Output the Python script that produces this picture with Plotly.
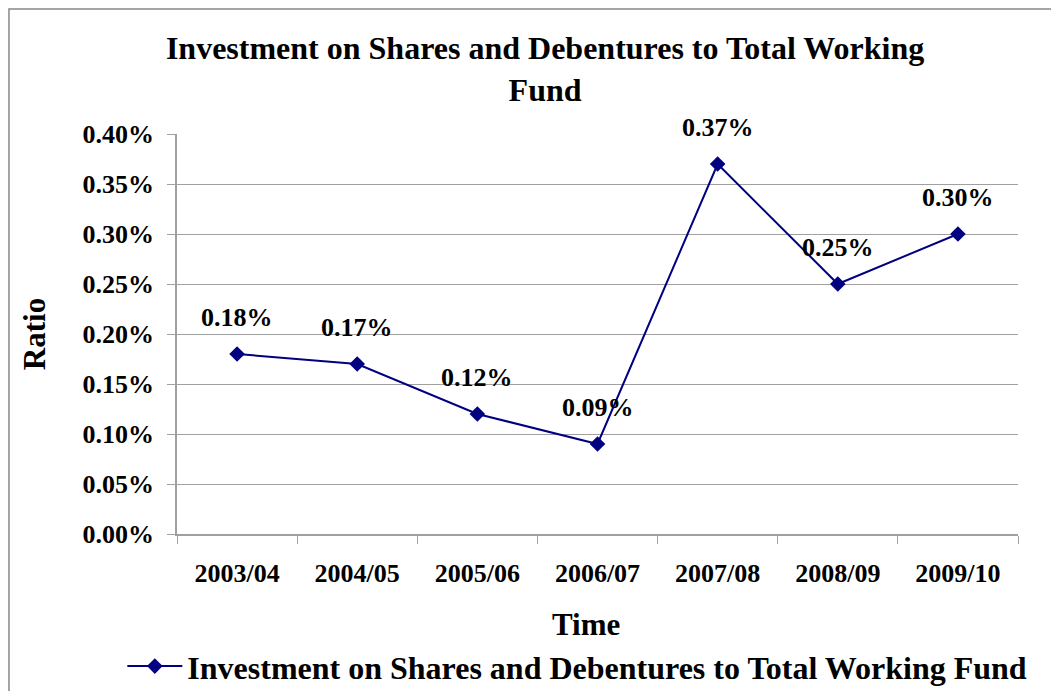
import plotly.graph_objects as go

years = ["2003/04", "2004/05", "2005/06", "2006/07", "2007/08", "2008/09", "2009/10"]
ratio = [0.0018, 0.0017, 0.0012, 0.0009, 0.0037, 0.0025, 0.0030]
series_name = "Investment on Shares and Debentures to Total Working Fund"

FONT = "Liberation Serif"
NAVY = "#000080"
GREY = "#a0a0a0"

fig = go.Figure()
fig.add_trace(go.Scatter(
    x=years, y=ratio, mode="lines+markers", name="<b>" + series_name + "</b>",
    line=dict(color=NAVY, width=2),
    marker=dict(symbol="diamond", size=12, color=NAVY),
))

# data labels sit well above each point
for x, y in zip(years, ratio):
    fig.add_annotation(x=x, y=y, text=f"<b>{y * 100:.2f}%</b>", showarrow=False,
                       yshift=37, font=dict(family=FONT, size=26, color="black"))

# x axis title sits a little left of the plot centre in the original
fig.add_annotation(text="<b>Time</b>", xref="paper", yref="paper", x=0.486, y=-0.225,
                   xanchor="center", yanchor="middle", showarrow=False,
                   font=dict(family=FONT, size=31, color="black"))

# outer chart frame
fig.add_shape(type="rect", xref="paper", yref="paper",
              x0=-0.1998, x1=1.1, y0=-0.5, y1=1.3125,
              line=dict(color="#888888", width=1.5))

# the page body adds 8px on the left and top, so the figure is 8px smaller
fig.update_layout(
    width=1051, height=683,
    margin=dict(l=169, r=41, t=126, b=157, autoexpand=False),
    plot_bgcolor="white", paper_bgcolor="white",
    font=dict(family=FONT, color="black"),
    title=dict(text="<b>Investment on Shares and Debentures to Total Working<br>Fund</b>",
               x=0.511, xanchor="center", y=0.925, yanchor="top",
               font=dict(family=FONT, size=32)),
    showlegend=True,
    legend=dict(orientation="h", x=0.476, xanchor="center", y=-0.262, yanchor="top",
                font=dict(family=FONT, size=32), itemwidth=55),
)
fig.update_xaxes(
    type="category", range=[-0.5, len(years) - 0.5],
    showgrid=False, showline=True, linecolor=GREY, linewidth=1.5,
    ticks="outside", tickson="boundaries", ticklen=8, tickcolor=GREY,
    ticklabelstandoff=15,
    tickfont=dict(family=FONT, size=26), tickprefix="<b>", ticksuffix="</b>",
    automargin=False,
)
fig.update_yaxes(
    range=[0, 0.004], dtick=0.0005, tickformat=".2%",
    showgrid=True, gridcolor=GREY, gridwidth=1.2,
    showline=True, linecolor=GREY, linewidth=1.5,
    ticks="outside", ticklen=8, tickcolor=GREY,
    ticklabelstandoff=8,
    tickfont=dict(family=FONT, size=26), tickprefix="<b>", ticksuffix="</b>",
    title=dict(text="<b>Ratio</b>", font=dict(family=FONT, size=31), standoff=28),
    zeroline=False, automargin=False,
)

fig.write_html("out.html")
